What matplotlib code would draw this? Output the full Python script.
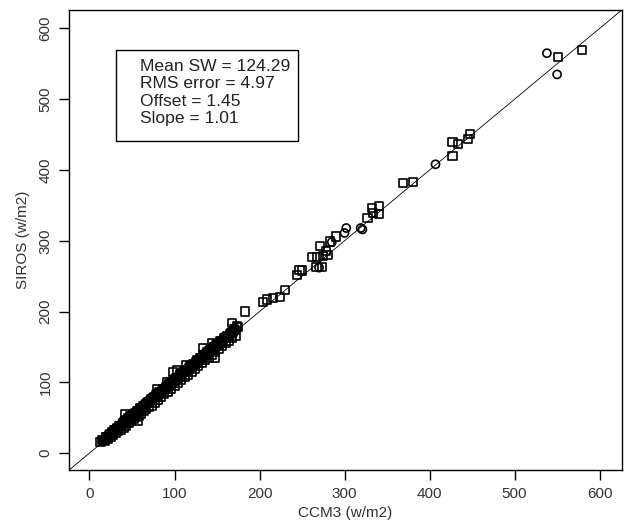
import matplotlib
matplotlib.use("Agg")
import numpy as np
from matplotlib import pyplot as plt
from matplotlib.patches import Rectangle

plt.rcParams['font.family'] = ['Liberation Sans', 'DejaVu Sans']

# dense low-range cluster plus the scattered higher points (squares)
sq_x = [13, 16, 18, 20, 22, 24, 25, 27, 28, 30, 31, 33, 34, 36, 37, 39, 40, 42,
        43, 45, 46, 48, 49, 51, 52, 54, 55, 57, 58, 60, 61, 63, 64, 66, 67, 69,
        70, 72, 73, 75, 77, 78, 80, 82, 84, 86, 88, 90, 92, 94, 96, 98, 100,
        102, 104, 106, 108, 110, 112, 114, 116, 118, 120, 122, 124, 126, 128,
        130, 132, 134, 136, 138, 140, 142, 144, 146, 148, 150, 152, 154, 156,
        158, 160, 162, 164, 166, 168, 170, 172, 175,
        42, 57, 80, 91, 98, 103, 113, 134, 144, 148, 168, 173, 183,
        204, 209, 216, 224, 230, 244, 247, 250, 262, 267, 268, 271, 273, 275,
        278, 280, 283, 290, 327, 332, 333, 341, 341, 369, 380, 427, 427, 433,
        445, 448, 551, 579]
sq_y = [16, 18, 17, 22, 20, 27, 23, 30, 25, 33, 28, 35, 31, 38, 33, 42, 36, 47,
        39, 49, 42, 52, 45, 54, 48, 57, 51, 60, 53, 63, 56, 66, 59, 69, 62, 72,
        65, 76, 67, 78, 71, 82, 75, 86, 79, 90, 83, 93, 87, 98, 91, 102, 95,
        106, 99, 112, 103, 115, 107, 118, 111, 123, 115, 126, 119, 131, 123,
        134, 127, 138, 131, 143, 135, 146, 139, 150, 143, 154, 147, 158, 151,
        162, 155, 166, 159, 170, 162, 175, 166, 178,
        55, 45, 90, 101, 114, 118, 125, 149, 156, 134, 184, 180, 200,
        213, 217, 219, 221, 231, 252, 259, 258, 277, 263, 277, 292, 263, 278,
        286, 280, 299, 306, 332, 346, 339, 349, 338, 382, 383, 439, 420, 437,
        444, 451, 559, 570]

# extra squares filling the middle of the dense band
band_x = [15, 17, 19, 21, 23, 26, 29, 32, 35, 38, 41, 44, 47, 50, 53, 56, 59,
          62, 65, 68, 71, 74, 76, 79, 81, 83, 85, 87, 89, 91, 93, 95, 97, 99,
          101, 103, 105, 107, 109, 111, 113, 115, 117, 119, 121, 123, 125, 127,
          129, 131, 133, 135, 137, 139, 141, 143, 145, 147, 149, 151, 153, 155,
          157, 159, 161, 163, 165, 167, 169, 171]
band_y = [18, 19, 22, 23, 25, 29, 32, 34, 38, 40, 44, 46, 50, 53, 55, 59, 62,
          64, 68, 71, 73, 77, 79, 81, 84, 85, 88, 90, 91, 94, 96, 97, 100, 102,
          104, 105, 108, 110, 111, 114, 116, 117, 120, 122, 124, 125, 128, 130,
          131, 134, 136, 138, 140, 141, 144, 146, 147, 150, 152, 153, 156, 158,
          159, 162, 164, 165, 168, 170, 171, 174]

ci_x = [270, 285, 300, 302, 319, 321, 407, 538, 550]
ci_y = [262, 298, 311, 318, 318, 316, 408, 565, 535]

stats = ["Mean SW = 124.29", "RMS error = 4.97", "Offset = 1.45", "Slope = 1.01"]

fig = plt.figure(figsize=(6.28, 5.27), dpi=100)
ax = fig.add_axes([0.110, 0.108, 0.880, 0.873])

lim = (-24, 626)
ax.plot(lim, lim, color='black', lw=0.6)
for xs, ys in ((sq_x, sq_y), (band_x, band_y)):
    ax.scatter(xs, ys, marker='s', s=34, facecolors='none',
               edgecolors='black', linewidths=1.2)
ax.scatter(ci_x, ci_y, marker='o', s=34, facecolors='none',
           edgecolors='black', linewidths=1.2)
ax.set_xlim(lim)
ax.set_ylim(lim)

ticks = [0, 100, 200, 300, 400, 500, 600]
ax.set_xticks(ticks)
ax.set_yticks(ticks)
ax.tick_params(direction='out', length=7, width=1, labelsize=11,
               labelcolor='#333333', pad=5)
for lab in ax.get_yticklabels():
    lab.set_rotation(90)
    lab.set_va('center')
for sp in ax.spines.values():
    sp.set_linewidth(1)

ax.set_xlabel("CCM3 (w/m2)", fontsize=11, color='#333333', labelpad=4)
ax.set_ylabel("SIROS (w/m2)", fontsize=11, color='#333333', labelpad=6)

ax.add_patch(Rectangle((31, 441), 214, 128, fill=False, edgecolor='black',
                       lw=1, transform=ax.transData))
# one text per line, spaced like the original legend box
for k, line in enumerate(stats):
    ax.text(60, 546 - 24.5 * k, line, fontsize=12.6, color='#222222',
            va='center', ha='left')

fig.savefig("out.png", dpi=100)
